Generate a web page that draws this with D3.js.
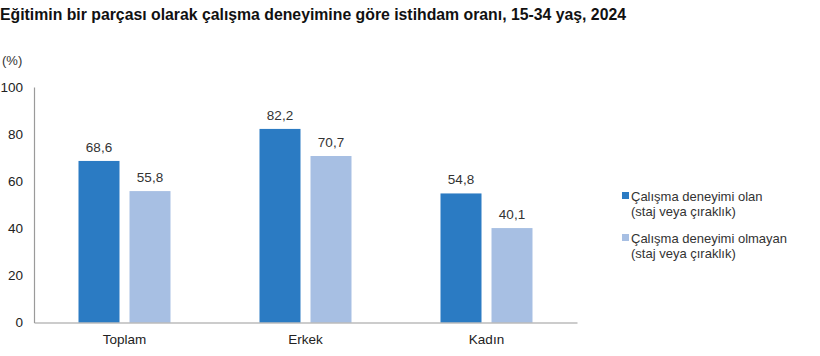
<!DOCTYPE html>
<html><head><meta charset="utf-8">
<script src="https://cdn.jsdelivr.net/npm/d3@7"></script>
<style>
body{margin:0;background:#fff;}
svg{display:block;font-family:"Liberation Sans",Arial,sans-serif;}
</style></head>
<body>
<svg id="c" width="820" height="356"></svg>
<script>
const title = "Eğitimin bir parçası olarak çalışma deneyimine göre istihdam oranı, 15-34 yaş, 2024";
const unitLabel = "(%)";
const categories = ["Toplam", "Erkek", "Kadın"];
const seriesNames = [["Çalışma deneyimi olan", "(staj veya çıraklık)"], ["Çalışma deneyimi olmayan", "(staj veya çıraklık)"]];
const withExperience = [68.6, 82.2, 54.8];
const withoutExperience = [55.8, 70.7, 40.1];
const yTicks = [0, 20, 40, 60, 80, 100];
const colors = ["#2b7bc3", "#a7bfe3"];

const series = [withExperience, withoutExperience];
const svg = d3.select("#c");
const fmt = v => v.toFixed(1).replace(".", ",");

const x0 = d3.scaleBand().domain(categories).range([34, 577]).padding(0);
const x1 = d3.scaleBand().domain([0, 1]).range([44.5, 136.5]).paddingInner(10/51);
const y = d3.scaleLinear().domain([0, 100]).range([322.5, 87]);

svg.append("text").attr("x", 0).attr("y", 19.5).attr("font-size", 15.8).attr("font-weight", "bold").attr("fill", "#111").text(title);
svg.append("text").attr("x", 2).attr("y", 65).attr("font-size", 13).attr("fill", "#333").text(unitLabel);

// y axis
const ya = svg.append("g").attr("transform", "translate(34,0)").call(d3.axisLeft(y).tickValues(yTicks).tickSize(0).tickPadding(11).tickFormat(d3.format("d")));
ya.select(".domain").attr("stroke", "#9a9a9a").attr("stroke-width", 1.2);
ya.selectAll("text").attr("font-size", 13.5).attr("fill", "#222").attr("font-family", "Liberation Sans, Arial, sans-serif");

// bars
const g = svg.append("g");
categories.forEach((c, i) => {
  series.forEach((s, j) => {
    g.append("rect").attr("x", x0(c) + x1(j)).attr("y", y(s[i])).attr("width", x1.bandwidth()).attr("height", y(0) - y(s[i])).attr("fill", colors[j]);
    g.append("text").attr("x", x0(c) + x1(j) + x1.bandwidth()/2).attr("y", y(s[i]) - 9).attr("text-anchor", "middle").attr("font-size", 13.5).attr("fill", "#333").text(fmt(s[i]));
  });
});

// x axis
const xa = svg.append("g").attr("transform", "translate(0,322.5)").call(d3.axisBottom(x0).tickSize(0).tickPadding(12));
xa.select(".domain").attr("stroke", "#9a9a9a").attr("stroke-width", 1.2);
xa.selectAll("text").attr("font-size", 13.5).attr("fill", "#222").attr("font-family", "Liberation Sans, Arial, sans-serif");

// legend
const lg = svg.append("g").attr("transform", "translate(622,0)");
seriesNames.forEach((n, j) => {
  const yy = 196 + j * 42;
  lg.append("rect").attr("x", 0).attr("y", yy - 4).attr("width", 7).attr("height", 7).attr("fill", colors[j]);
  n.forEach((line, k) => {
    lg.append("text").attr("x", 9).attr("y", yy + 4.5 + k * 15).attr("font-size", 13).attr("fill", "#333").text(line);
  });
});
</script>
</body></html>
